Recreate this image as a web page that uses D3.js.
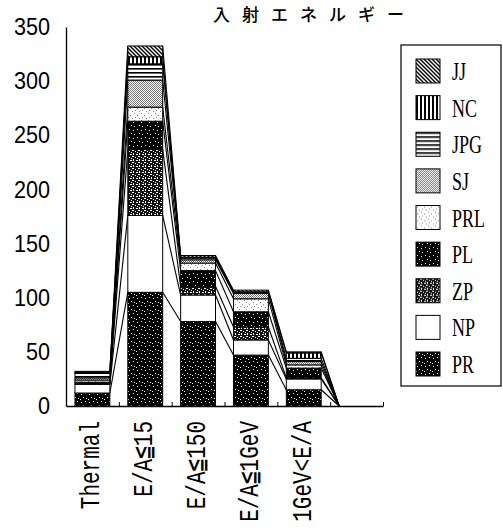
<!DOCTYPE html>
<html>
<head>
<meta charset="utf-8">
<script src="https://cdn.jsdelivr.net/npm/d3@7"></script>
<style>
  body { margin: 0; background: #fff; }
  svg { display: block; }
</style>
</head>
<body>
<svg></svg>
<script>
// ---------------- data ----------------
let categories = ['Thermal', 'E/A≦15', 'E/A≦150', 'E/A≦1GeV', '1GeV<E/A', '']
let seriesNames = ['PR', 'NP', 'ZP', 'PL', 'PRL', 'SJ', 'JPG', 'NC', 'JJ']

let pr  = [12, 105, 78, 47, 15, 0]
let np  = [8, 71, 24.5, 14, 10, 0]
let zp  = [1, 61, 8, 12, 1, 0]
let pl  = [1, 26, 14.5, 14, 9, 0]
let prl = [2, 13, 7, 12, 3, 0]
let sj  = [2, 25, 3, 5, 3, 0]
let jpg = [4, 15, 1.5, 1, 3, 0]
let nc  = [1, 6.5, 1, 0.5, 5, 0]
let jj  = [1, 10, 1.5, 1.5, 1, 0]

let yTicks = [0, 50, 100, 150, 200, 250, 300, 350]
let title = '入射エネルギー'

// ---------------- setup ----------------
let width = 503
let height = 532

let svg = d3.select('svg')
let xScale, yScale, xEdge, stacked

let table = categories.map((c, i) => ({
  cat: c, PR: pr[i], NP: np[i], ZP: zp[i], PL: pl[i], PRL: prl[i],
  SJ: sj[i], JPG: jpg[i], NC: nc[i], JJ: jj[i]
}))

let drawCanvas = () => {
  svg.attr('width', width).attr('height', height)
}

// fill patterns, like the printed hatchings
let makePatterns = () => {
  let defs = svg.append('defs')

  let speckled = (id, size, bg, fg, dots) => {
    let p = defs.append('pattern').attr('id', id)
      .attr('patternUnits', 'userSpaceOnUse').attr('width', size).attr('height', size)
    p.append('rect').attr('width', size).attr('height', size).attr('fill', bg)
    dots.forEach(d => {
      p.append('rect').attr('x', d[0]).attr('y', d[1])
        .attr('width', d[2] || 1).attr('height', d[3] || 1).attr('fill', fg)
    })
  }

  // JJ diagonal
  let p = defs.append('pattern').attr('id', 'pat-JJ')
    .attr('patternUnits', 'userSpaceOnUse').attr('width', 4).attr('height', 4)
  p.append('rect').attr('width', 4).attr('height', 4).attr('fill', '#fff')
  p.append('path').attr('d', 'M-1,-1 L5,5 M-1,3 L1,5 M3,-1 L5,1')
    .attr('stroke', '#000').attr('stroke-width', 1.4)

  // NC vertical
  p = defs.append('pattern').attr('id', 'pat-NC')
    .attr('patternUnits', 'userSpaceOnUse').attr('width', 4).attr('height', 4)
  p.append('rect').attr('width', 4).attr('height', 4).attr('fill', '#fff')
  p.append('rect').attr('x', 0).attr('width', 2).attr('height', 4).attr('fill', '#000')

  // JPG horizontal
  p = defs.append('pattern').attr('id', 'pat-JPG')
    .attr('patternUnits', 'userSpaceOnUse').attr('width', 4).attr('height', 4)
  p.append('rect').attr('width', 4).attr('height', 4).attr('fill', '#fff')
  p.append('rect').attr('y', 0).attr('width', 4).attr('height', 1.6).attr('fill', '#000')

  speckled('pat-SJ', 2, '#fff', '#777', [[0, 0], [1, 1]])
  speckled('pat-PRL', 7, '#fff', '#888', [[1, 1], [4, 3], [2, 5], [6, 6]])
  speckled('pat-PL', 8, '#000', '#fff', [[1, 1], [5, 2], [3, 5], [6, 6]])
  speckled('pat-ZP', 6, '#111', '#fff', [[0, 0, 2, 1], [3, 1], [1, 3, 1, 2], [4, 4, 2, 1], [5, 2]])
  speckled('pat-NP', 4, '#fff', '#fff', [])
  speckled('pat-PR', 8, '#000', '#fff', [[1, 2], [5, 1], [3, 5], [6, 6], [0, 7]])
}

let generateScales = () => {
  xScale = d3.scaleBand()
    .domain(categories)
    .range([66, 383])
    .paddingInner(0.34)
    .paddingOuter(0.17)

  // boundaries between categories, for the small ticks
  xEdge = d3.scaleLinear().domain([0, categories.length]).range([66, 383])

  yScale = d3.scaleLinear()
    .domain([0, 350])
    .range([406, 27])

  stacked = d3.stack().keys(seriesNames)(table)
}

let drawBars = () => {
  let bw = xScale.bandwidth()

  // lines joining the layer tops of neighbouring bars
  let links = svg.append('g')
  stacked.forEach(layer => {
    for (let i = 0; i < categories.length - 1; i++) {
      links.append('line')
        .attr('x1', xScale(categories[i]) + bw)
        .attr('y1', yScale(layer[i][1]))
        .attr('x2', xScale(categories[i + 1]))
        .attr('y2', yScale(layer[i + 1][1]))
        .attr('stroke', '#000')
        .attr('stroke-width', 1.1)
    }
  })

  svg.append('g').selectAll('g')
    .data(stacked)
    .enter()
    .append('g')
    .attr('fill', d => 'url(#pat-' + d.key + ')')
    .selectAll('rect')
    .data(d => d.filter(v => v[1] - v[0] > 0))
    .enter()
    .append('rect')
    .attr('x', d => xScale(d.data.cat))
    .attr('y', d => yScale(d[1]))
    .attr('width', bw)
    .attr('height', d => yScale(d[0]) - yScale(d[1]))
    .attr('stroke', '#000')
    .attr('stroke-width', 1)
}

let generateAxes = () => {
  let yAxis = d3.axisLeft(yScale)
    .tickValues(yTicks)
    .tickSize(0)
    .tickPadding(16)

  let gy = svg.append('g')
    .call(yAxis)
    .attr('transform', 'translate(66, 0)')
  gy.select('.domain').attr('stroke-width', 1.3)
  gy.selectAll('text')
    .attr('font-family', '"Liberation Sans Narrow", "Liberation Sans", sans-serif')
    .attr('font-size', 24)
    .attr('fill', '#000')
    .attr('x', null)
    .attr('transform', 'translate(-16, 0) scale(0.9, 1)')

  let xAxis = d3.axisBottom(xEdge)
    .tickValues(d3.range(1, categories.length + 1))
    .tickSize(-4)
    .tickSizeOuter(0)
    .tickFormat('')

  let gx = svg.append('g')
    .call(xAxis)
    .attr('transform', 'translate(0, 406)')
  gx.select('.domain').attr('stroke-width', 1.3)

  // category names, turned upright
  let labelAxis = d3.axisBottom(xScale).tickSize(0).tickPadding(0)
  let gl = svg.append('g')
    .call(labelAxis)
    .attr('transform', 'translate(-3, 421)')
  gl.select('.domain').remove()
  gl.selectAll('text')
    .attr('font-family', '"Liberation Mono", monospace')
    .attr('font-size', 21)
    .attr('fill', '#000')
    .attr('text-anchor', 'end')
    .attr('y', 0)
    .attr('dy', '0.35em')
    .attr('transform', 'rotate(-90) scale(1, 1.35)')
}

let drawLegend = () => {
  let legend = svg.append('g')
  legend.append('rect')
    .attr('x', 401).attr('y', 45)
    .attr('width', 100).attr('height', 341)
    .attr('fill', 'none').attr('stroke', '#000').attr('stroke-width', 1.2)

  let order = seriesNames.slice().reverse()
  let row = d3.scaleLinear().domain([0, order.length - 1]).range([71, 364])

  let items = legend.selectAll('g.item')
    .data(order)
    .enter()
    .append('g')
    .attr('class', 'item')
    .attr('transform', (d, i) => 'translate(0,' + row(i) + ')')

  items.append('rect')
    .attr('x', 416).attr('y', -12)
    .attr('width', 24).attr('height', 24)
    .attr('fill', d => 'url(#pat-' + d + ')')
    .attr('stroke', '#000').attr('stroke-width', 1)

  items.append('text')
    .text(d => d)
    .attr('transform', 'translate(452, 9) scale(0.72, 1.05)')
    .attr('font-family', '"Liberation Serif", serif')
    .attr('font-size', 25)
    .attr('fill', '#000')
}

let drawTitle = () => {
  svg.append('text')
    .text(title)
    .attr('x', 213).attr('y', 21)
    .attr('font-family', '"Noto Sans CJK JP", sans-serif')
    .attr('font-size', 17)
    .attr('font-weight', 500)
    .attr('letter-spacing', 12)
    .attr('fill', '#000')
}

drawCanvas()
makePatterns()
generateScales()
drawBars()
generateAxes()
drawLegend()
drawTitle()
</script>
</body>
</html>
